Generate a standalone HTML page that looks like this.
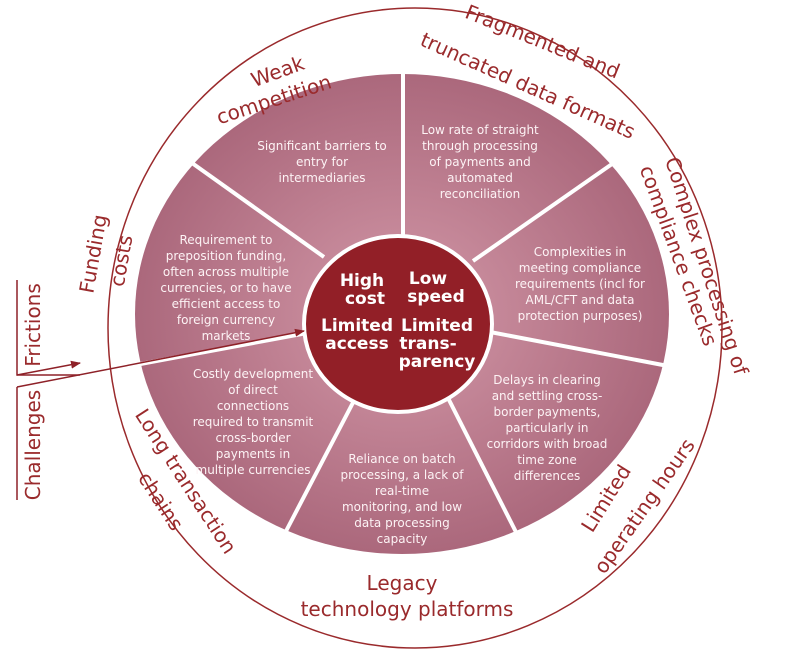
<!DOCTYPE html>
<html><head><meta charset="utf-8"><style>
html,body{margin:0;padding:0;background:#fff;}
svg{display:block;font-family:"DejaVu Sans","Liberation Sans",sans-serif;}
.r{fill:#9a2a2c;font-size:20px;}
.w{fill:#fdf3f5;font-size:12px;}
.b{fill:#fff;font-size:17px;font-weight:bold;}
</style></head><body>
<svg width="787" height="659" viewBox="0 0 787 659">
<defs>
<radialGradient id="g" cx="0.5" cy="0.5" r="0.5">
<stop offset="0.3" stop-color="#c78a9b"/><stop offset="1" stop-color="#ab687c"/>
</radialGradient>
<marker id="a" markerWidth="10" markerHeight="8" refX="9" refY="4" orient="auto" markerUnits="userSpaceOnUse">
<path d="M0,0 L10,4 L0,8 z" fill="#8e2128"/></marker>
</defs>
<ellipse cx="415" cy="328" rx="307" ry="320" fill="none" stroke="#9a2a2c" stroke-width="1.5"/>
<ellipse cx="402" cy="314" rx="267" ry="240" fill="url(#g)"/>
<g stroke="#fff" stroke-width="4">
<line x1="403" y1="70" x2="403" y2="240"/>
<line x1="192" y1="163" x2="324" y2="257"/>
<line x1="135" y1="365" x2="307" y2="333"/>
<line x1="284" y1="535" x2="358" y2="393"/>
<line x1="445" y1="392" x2="520" y2="540"/>
<line x1="490" y1="332" x2="668" y2="366"/>
<line x1="473" y1="261" x2="612" y2="164"/>
</g>
<ellipse cx="398" cy="324" rx="94" ry="88" fill="#921f27" stroke="#fff" stroke-width="4"/>
<g stroke="#8e2128" stroke-width="1.5" fill="none">
<polyline points="17,280 17,375 80,375"/>
<line x1="17" y1="375" x2="80" y2="363" marker-end="url(#a)"/>
<polyline points="17,500 17,387"/>
<line x1="17" y1="387" x2="304" y2="331" marker-end="url(#a)"/>
</g>
<text class="r" transform="translate(40,325) rotate(-90)" text-anchor="middle">Frictions</text>
<text class="r" transform="translate(40,445) rotate(-90)" text-anchor="middle">Challenges</text>
<g class="b" text-anchor="middle">
<text x="362" y="286">High</text><text x="365" y="304">cost</text>
<text x="428" y="284">Low</text><text x="436" y="302">speed</text>
<text x="357" y="331">Limited</text><text x="357" y="349">access</text>
<text x="437" y="331">Limited</text><text x="428" y="349">trans-</text><text x="437" y="367">parency</text>
</g>
<g class="w" text-anchor="middle">
<text x="322" y="150">Significant barriers to</text><text x="322" y="166">entry for</text><text x="322" y="182">intermediaries</text>
<text x="480" y="134">Low rate of straight</text><text x="480" y="150">through processing</text><text x="480" y="166">of payments and</text><text x="480" y="182">automated</text><text x="480" y="198">reconciliation</text>
<text x="226" y="244">Requirement to</text><text x="226" y="260">preposition funding,</text><text x="226" y="276">often across multiple</text><text x="226" y="292">currencies, or to have</text><text x="226" y="308">efficient access to</text><text x="226" y="324">foreign currency</text><text x="226" y="340">markets</text>
<text x="580" y="256">Complexities in</text><text x="580" y="272">meeting compliance</text><text x="580" y="288">requirements (incl for</text><text x="580" y="304">AML/CFT and data</text><text x="580" y="320">protection purposes)</text>
<text x="253" y="378">Costly development</text><text x="253" y="394">of direct</text><text x="253" y="410">connections</text><text x="253" y="426">required to transmit</text><text x="253" y="442">cross-border</text><text x="253" y="458">payments in</text><text x="253" y="474">multiple currencies</text>
<text x="547" y="384">Delays in clearing</text><text x="547" y="400">and settling cross-</text><text x="547" y="416">border payments,</text><text x="547" y="432">particularly in</text><text x="547" y="448">corridors with broad</text><text x="547" y="464">time zone</text><text x="547" y="480">differences</text>
<text x="402" y="463">Reliance on batch</text><text x="402" y="479">processing, a lack of</text><text x="402" y="495">real-time</text><text x="402" y="511">monitoring, and low</text><text x="402" y="527">data processing</text><text x="402" y="543">capacity</text>
</g>
<g class="r" text-anchor="middle">
<text transform="translate(280,78) rotate(-20)">Weak</text>
<text transform="translate(276,106) rotate(-18)">competition</text>
<text transform="translate(540,48) rotate(22)">Fragmented and</text>
<text transform="translate(525,92) rotate(24)">truncated data formats</text>
<text transform="translate(700,268) rotate(72)">Complex processing of</text>
<text transform="translate(672,258) rotate(70)">compliance checks</text>
<text transform="translate(612,502) rotate(-58)">Limited</text>
<text transform="translate(650,510) rotate(-55)">operating hours</text>
<text x="402" y="590">Legacy</text>
<text x="407" y="616">technology platforms</text>
<text transform="translate(180,485) rotate(57)">Long transaction</text>
<text transform="translate(155,505) rotate(57)">chains</text>
<text transform="translate(100,255) rotate(-80)">Funding</text>
<text transform="translate(128,262) rotate(-80)">costs</text>
</g>
</svg>
</body></html>
